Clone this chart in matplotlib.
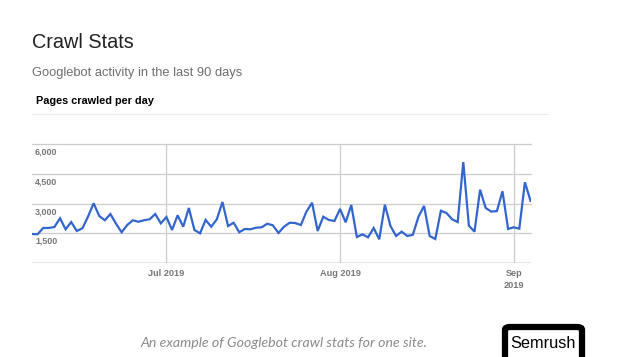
import matplotlib
matplotlib.use("Agg")
import matplotlib.pyplot as plt
import matplotlib.dates as mdates
from matplotlib.patches import FancyBboxPatch
import numpy as np
import datetime as dt

# ---- data ----
start_date = dt.date(2019, 6, 7)
pages_crawled = [
    1460, 1450, 1765, 1765, 1815, 2255, 1700, 2065, 1615, 1750,
    2335, 3010, 2370, 2155, 2470, 1980, 1550, 1915, 2155, 2080,
    2155, 2205, 2470, 2000, 2320, 1665, 2405, 1830, 2775, 1665,
    1495, 2170, 1830, 2205, 3075, 1865, 2030, 1550, 1715, 1700,
    1780, 1800, 1980, 1900, 1515, 1830, 2030, 2015, 1915, 2590,
    3040, 1615, 2335, 2170, 2120, 2725, 2050, 2925, 1310, 1445,
    1295, 1765, 1195, 2940, 1865, 1360, 1580, 1360, 1425, 2335,
    2875, 1360, 1210, 2635, 2520, 2205, 2065, 5090, 1880, 1580,
    3695, 2775, 2590, 2620, 3615, 1715, 1800, 1730, 4070, 3140,
]
y_ticks = [1500, 3000, 4500, 6000]
y_tick_labels = ["1,500", "3,000", "4,500", "6,000"]
month_ticks = [dt.date(2019, 7, 1), dt.date(2019, 8, 1), dt.date(2019, 9, 1)]
month_labels = ["Jul 2019", "Aug 2019", "Sep\n2019"]

dates = [start_date + dt.timedelta(days=i) for i in range(len(pages_crawled))]

W, H = 617, 357
fig = plt.figure(figsize=(W / 100, H / 100), dpi=100)
fig.patch.set_facecolor("white")

def fx(px):
    return px / W

def fy(py):
    return 1 - py / H

FONT = ["Liberation Sans", "DejaVu Sans"]

# header texts
fig.text(fx(32), fy(43), "Crawl Stats", fontsize=14.3, color="#222222",
         va="center", ha="left", family=FONT)
fig.text(fx(32), fy(73), "Googlebot activity in the last 90 days", fontsize=9.3,
         color="#6f6f6f", va="center", ha="left", family=FONT)
fig.text(fx(36), fy(101), "Pages crawled per day", fontsize=7.8, color="#000000",
         weight="bold", va="center", ha="left", family=FONT)
fig.add_artist(plt.Line2D([fx(32), fx(548)], [fy(113.5), fy(113.5)], color="#ececec",
                          lw=0.8))

# chart axes
left, right, top, bottom = 32, 530.5, 144, 263
ax = fig.add_axes([fx(left), fy(bottom), fx(right - left), (bottom - top) / H])
ax.set_facecolor("white")
ax.plot(dates, pages_crawled, color="#3366cc", lw=1.6, solid_joinstyle="miter", zorder=3)
ax.set_xlim(dates[0], dates[-1])
ax.set_ylim(0, 6000)

for v in y_ticks:
    ax.axhline(v, color="#cccccc", lw=0.9, zorder=1, clip_on=False)
for d in month_ticks:
    ax.axvline(d, color="#cccccc", lw=0.9, zorder=1)
ax.axhline(0, color="#888888", lw=1.0, zorder=2)

for s in ax.spines.values():
    s.set_visible(False)
ax.set_xticks([])
ax.set_yticks([])

# y tick labels inside, below gridlines
for v, lab in zip(y_ticks, y_tick_labels):
    py = bottom - v / 6000 * (bottom - top)
    fig.text(fx(35), fy(py + 8), lab, fontsize=6.4, color="#777777", weight="bold",
             va="center", ha="left", family=FONT)

# x tick labels
x0 = mdates.date2num(dates[0])
x1 = mdates.date2num(dates[-1])
for d, lab in zip(month_ticks, month_labels):
    px = left + (mdates.date2num(d) - x0) / (x1 - x0) * (right - left)
    fig.text(fx(px), fy(268.5), lab, fontsize=6.6, color="#777777", weight="bold",
             va="top", ha="center", family=FONT, linespacing=1.45)

# caption
fig.text(fx(284), fy(343), "An example of Googlebot crawl stats for one site.",
         fontsize=10.2, color="#8a8a8a", style="italic", va="center", ha="center",
         family=["Lato", "DejaVu Sans"])

# Semrush badge
box = FancyBboxPatch((fx(505), fy(372)), fx(77), (372 - 327) / H,
                     boxstyle="round,pad=0,rounding_size=0.008",
                     transform=fig.transFigure, facecolor="white",
                     edgecolor="black", linewidth=4.5, clip_on=False)
fig.add_artist(box)
fig.text(fx(543.5), fy(343), "Semrush", fontsize=11.8, color="black", va="center",
         ha="center", family=FONT)

fig.savefig("out.png", dpi=100, facecolor="white")
